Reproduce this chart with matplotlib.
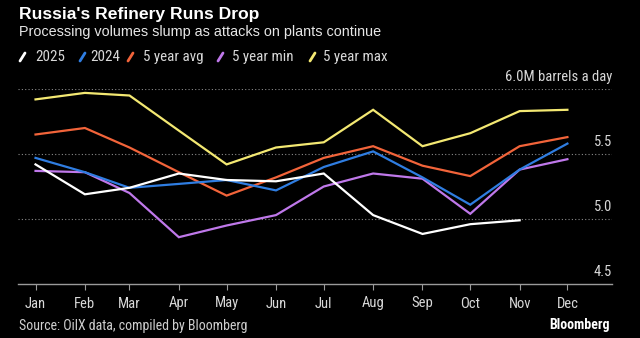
import matplotlib
matplotlib.use("Agg")
import matplotlib.pyplot as plt
from matplotlib.lines import Line2D
import datetime as dt

months = ["Jan", "Feb", "Mar", "Apr", "May", "Jun", "Jul", "Aug", "Sep", "Oct", "Nov", "Dec"]
s2025 = [5.42, 5.19, 5.24, 5.35, 5.30, 5.29, 5.35, 5.03, 4.885, 4.96, 4.99]
s2024 = [5.47, 5.36, 5.24, 5.27, 5.30, 5.22, 5.40, 5.52, 5.32, 5.11, 5.38, 5.58]
avg5 = [5.65, 5.70, 5.55, 5.36, 5.18, 5.32, 5.47, 5.56, 5.41, 5.33, 5.56, 5.63]
min5 = [5.37, 5.36, 5.20, 4.86, 4.95, 5.03, 5.25, 5.35, 5.31, 5.04, 5.38, 5.46]
max5 = [5.92, 5.97, 5.95, 5.68, 5.42, 5.55, 5.59, 5.84, 5.56, 5.66, 5.83, 5.84]
series_names = ["2025", "2024", "5 year avg", "5 year min", "5 year max"]
colors = ["#ffffff", "#2f7de1", "#f2643a", "#bf78ea", "#f3e872"]
yticks = [4.5, 5.0, 5.5]

dates = [dt.date(2025, m, 1) for m in range(1, 13)]

W, H = 640, 338
plt.rcParams["font.family"] = ["Roboto Condensed", "DejaVu Sans"]
fig = plt.figure(figsize=(W / 100, H / 100), dpi=100, facecolor="black")

def fx(px):
    return px / W

def fy(py):
    return 1 - py / H

ax_l, ax_r, ax_t, ax_b = 18, 612, 89, 284
ax = fig.add_axes([fx(ax_l), fy(ax_b), fx(ax_r - ax_l), (ax_b - ax_t) / H])
ax.set_facecolor("black")

data = [s2025, s2024, avg5, min5, max5]
order = [4, 2, 3, 1, 0]
for i in order:
    vals = data[i]
    ax.plot(dates[:len(vals)], vals, color=colors[i], lw=1.6, solid_joinstyle="miter",
            clip_on=False, zorder=3 + (i == 0))

ax.set_xlim(dt.date(2024, 12, 21), dt.date(2025, 12, 29))
ax.set_ylim(4.5, 6.0)
ax.set_xticks(dates)
ax.set_xticklabels(months)
ax.tick_params(axis="x", colors="#9a9a9a", direction="out", length=4, width=0.8,
               labelsize=10.5, labelcolor="#d8d8d8", pad=5)
ax.set_yticks([])
for sp in ["top", "right", "left"]:
    ax.spines[sp].set_visible(False)
ax.spines["bottom"].set_color("#9a9a9a")
ax.spines["bottom"].set_linewidth(1.0)

for v in [5.0, 5.5, 6.0]:
    ax.axhline(v, color="#8a8a8a", lw=0.8, ls=(0, (1, 2)), zorder=1)

for v in yticks:
    ax.text(1.0, v + 0.035, f"{v:.1f}", transform=ax.get_yaxis_transform(), ha="right", va="bottom",
            color="#d8d8d8", fontsize=10.5)
ax.text(1.0, 6.0 + 0.035, "6.0M barrels a day", transform=ax.get_yaxis_transform(), ha="right",
        va="bottom", color="#d8d8d8", fontsize=10.5)

fig.text(fx(19), fy(14), "Russia's Refinery Runs Drop", color="white", fontsize=12.6, fontweight="bold",
         family=["Liberation Sans", "DejaVu Sans"], va="center", ha="left")
fig.text(fx(19), fy(32), "Processing volumes slump as attacks on plants continue", color="#e6e6e6",
         fontsize=10.4, family=["Liberation Sans", "DejaVu Sans"], va="center", ha="left")

# legend
slash_x = [20, 80, 128, 218, 310]
text_x = [35, 90, 143, 232, 323]
ly = 57
for sx, tx, name, c in zip(slash_x, text_x, series_names, colors):
    fig.add_artist(Line2D([fx(sx), fx(sx + 5)], [fy(ly + 4), fy(ly - 4)], color=c, lw=2,
                          transform=fig.transFigure, solid_capstyle="round"))
    fig.text(fx(tx), fy(ly), name, color="#d8d8d8", fontsize=10.8, va="center", ha="left")

fig.text(fx(19), fy(326), "Source: OilX data, compiled by Bloomberg", color="#cfcfcf", fontsize=10,
         va="center", ha="left")
fig.text(fx(610), fy(325), "Bloomberg", color="white", fontsize=10, fontweight="bold",
         va="center", ha="right")

fig.savefig("out.png", dpi=100, facecolor="black")
